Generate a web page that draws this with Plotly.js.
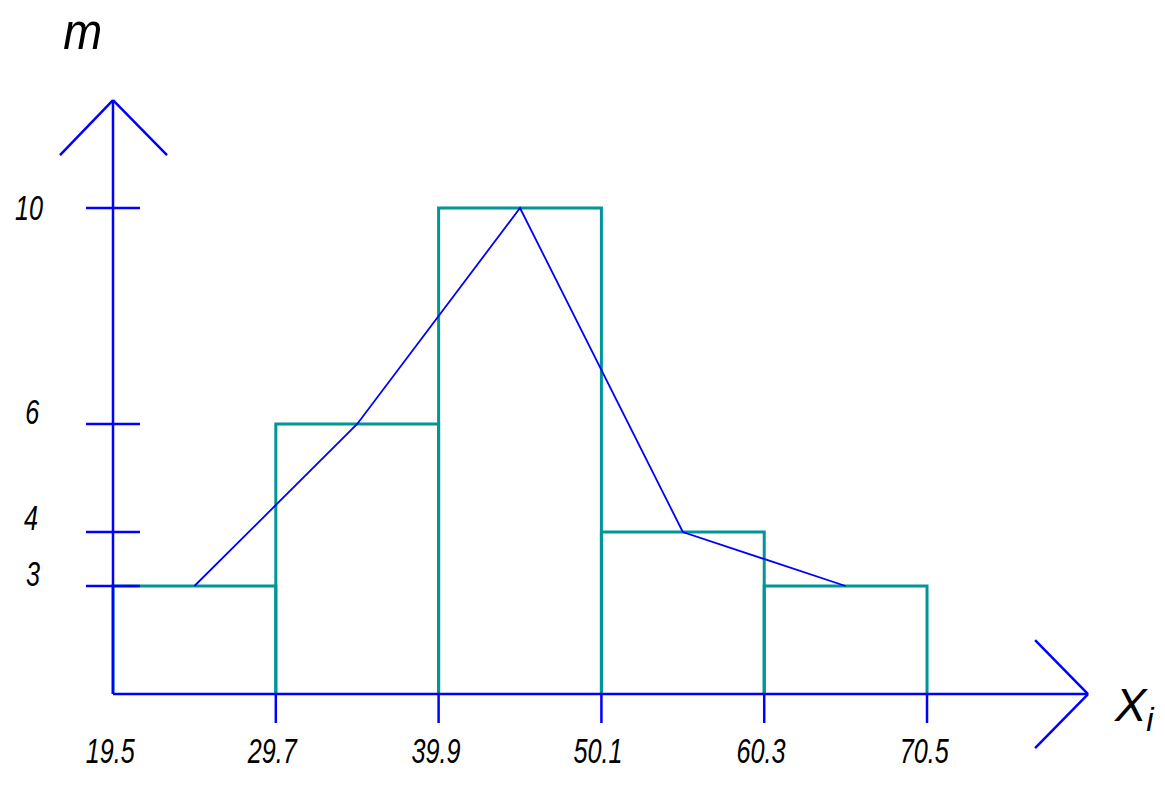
<!DOCTYPE html>
<html>
<head>
<meta charset="utf-8">
<script src="https://cdn.plot.ly/plotly-3.0.1.min.js"></script>
<style>
  html, body { margin: 0; padding: 0; background: #fff; }
  #chart { width: 1165px; height: 785px; }
</style>
</head>
<body>
<div id="chart"></div>
<script>
// ---- data ----
const binEdges = [19.5, 29.7, 39.9, 50.1, 60.3, 70.5];
const counts = [3, 6, 10, 4, 3];
const midpoints = [24.6, 34.8, 45.0, 55.2, 65.4];
const yTickValues = [3, 4, 6, 10];
const xTickLabels = ["19.5", "29.7", "39.9", "50.1", "60.3", "70.5"];
const yTickLabels = ["3", "4", "6", "10"];
const yAxisName = "m";
const xAxisName = "X<sub>i</sub>";

const BLUE = "#0000ff";
const TEAL = "#009696";
const FONT = "Liberation Sans, Arial, sans-serif";
const BASE = 1;       // value where the horizontal axis crosses (axis is broken below)
const Y_TOP = 12;     // end of vertical axis arrow
const X_END = 80.59;  // end of horizontal axis arrow

// histogram outline: each bar drawn as an open rectangle from the axis
const histX = [], histY = [];
for (let i = 0; i < counts.length; i++) {
  histX.push(binEdges[i], binEdges[i], binEdges[i + 1], binEdges[i + 1], null);
  histY.push(BASE, counts[i], counts[i], BASE, null);
}

const traces = [
  {
    x: histX, y: histY, mode: "lines", type: "scatter",
    line: { color: TEAL, width: 3 }, hoverinfo: "skip", connectgaps: false
  },
  {
    x: midpoints, y: counts, mode: "lines", type: "scatter",
    line: { color: BLUE, width: 1.8 }, hoverinfo: "skip"
  }
];

const x0 = binEdges[0];
const shapes = [];
function seg(o) {
  shapes.push(Object.assign({ type: "line", layer: "above", line: { color: BLUE, width: 2.5 } }, o));
}
// axes
seg({ xref: "x", yref: "y", x0: x0, x1: x0, y0: BASE, y1: Y_TOP });
seg({ xref: "x", yref: "y", x0: x0, x1: X_END, y0: BASE, y1: BASE });
// arrowheads (pixel-sized)
seg({ xref: "x", yref: "y", xsizemode: "pixel", ysizemode: "pixel", xanchor: x0, yanchor: Y_TOP, x0: -53, x1: 0, y0: -55, y1: 0 });
seg({ xref: "x", yref: "y", xsizemode: "pixel", ysizemode: "pixel", xanchor: x0, yanchor: Y_TOP, x0: 54, x1: 0, y0: -55, y1: 0 });
seg({ xref: "x", yref: "y", xsizemode: "pixel", ysizemode: "pixel", xanchor: X_END, yanchor: BASE, x0: -53, x1: 0, y0: 54, y1: 0 });
seg({ xref: "x", yref: "y", xsizemode: "pixel", ysizemode: "pixel", xanchor: X_END, yanchor: BASE, x0: -53, x1: 0, y0: -54, y1: 0 });
// y ticks
yTickValues.forEach(v => seg({ xref: "x", yref: "y", xsizemode: "pixel", xanchor: x0, x0: -27, x1: 27, y0: v, y1: v }));
// x ticks (below axis)
binEdges.slice(1).forEach(v => seg({ xref: "x", yref: "y", ysizemode: "pixel", yanchor: BASE, x0: v, x1: v, y0: 0, y1: -29 }));

const annotations = [];
const scales = [];
const textFont = { family: FONT, size: 36, color: "#000" };
xTickLabels.forEach((t, i) => {
  annotations.push({
    xref: "x", yref: "y", x: binEdges[i], y: BASE, yshift: -56, xshift: -3,
    text: "<i>" + t + "</i>", showarrow: false, font: textFont, xanchor: "center", yanchor: "middle"
  });
  scales.push(0.7);
});
const yShifts = { "3": [-80, 13], "4": [-82, 15], "6": [-81, 13], "10": [-84, 1] };
yTickLabels.forEach((t, i) => {
  annotations.push({
    xref: "x", yref: "y", x: x0, y: yTickValues[i], xshift: yShifts[t][0], yshift: yShifts[t][1],
    text: "<i>" + t + "</i>", showarrow: false, font: textFont, xanchor: "center", yanchor: "middle"
  });
  scales.push(0.7);
});
annotations.push({
  xref: "paper", yref: "paper", x: 82 / 1165, y: 1, yshift: 0,
  text: "<i>" + yAxisName + "</i>", showarrow: false,
  font: { family: FONT, size: 52, color: "#000" }, xanchor: "center", yanchor: "top"
});
scales.push(0.9);
annotations.push({
  xref: "paper", yref: "paper", x: 1134 / 1165, y: 1 - 708 / 785,
  text: "<i>" + xAxisName + "</i>", showarrow: false,
  font: { family: FONT, size: 47, color: "#000" }, xanchor: "center", yanchor: "middle"
});
scales.push(1.0);

const layout = {
  width: 1165, height: 785,
  margin: { l: 0, r: 0, t: 0, b: 0 },
  paper_bgcolor: "#fff", plot_bgcolor: "#fff",
  showlegend: false,
  xaxis: { range: [12.42, 85.41], visible: false, fixedrange: true },
  yaxis: { range: [-0.685, 13.852], visible: false, fixedrange: true },
  shapes: shapes,
  annotations: annotations
};

Plotly.newPlot("chart", traces, layout, { staticPlot: true, displayModeBar: false }).then(gd => {
  // condense the label glyphs horizontally to mimic the narrow drafting font
  gd.querySelectorAll("g.annotation").forEach(g => {
    const idx = +g.getAttribute("data-index");
    const s = scales[idx];
    if (!s || s === 1) return;
    const txt = g.querySelector("text.annotation-text");
    if (!txt) return;
    const bb = txt.getBBox();
    const cx = bb.x + bb.width / 2;
    txt.setAttribute("transform", `translate(${cx} 0) scale(${s} 1) translate(${-cx} 0)`);
  });
});
</script>
</body>
</html>
